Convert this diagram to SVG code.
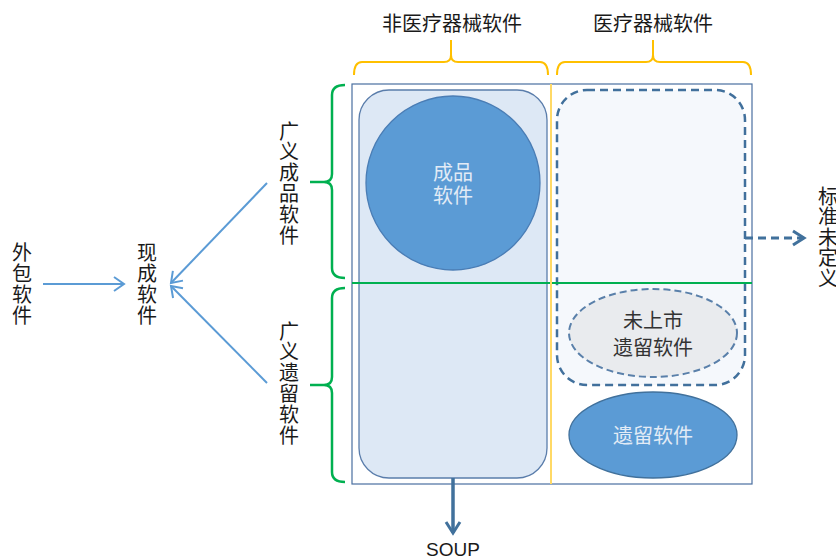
<svg xmlns="http://www.w3.org/2000/svg" width="836" height="560" viewBox="0 0 836 560">
<defs>
<style>
.t{font-family:"Noto Sans CJK SC","Liberation Sans",sans-serif;font-size:20px;fill:#1a1a1a}
.tc{text-anchor:middle}
.v{writing-mode:vertical-rl;text-anchor:start;letter-spacing:0.8px}
.w{fill:#e2ebf6}
.yb{fill:none;stroke:#ffc000;stroke-width:2}
.gb{fill:none;stroke:#00b050;stroke-width:2.5}
.ba{fill:none;stroke:#5b9bd5;stroke-width:2}
</style>
<marker id="ah" markerUnits="userSpaceOnUse" markerWidth="14" markerHeight="18" refX="11" refY="8" orient="auto">
<path d="M1,1 L11,8 L1,15" fill="none" stroke="#5b9bd5" stroke-width="2"/>
</marker>
<marker id="ad" markerUnits="userSpaceOnUse" markerWidth="16" markerHeight="20" refX="13" refY="9" orient="auto">
<path d="M2,2 L13,9 L2,16" fill="none" stroke="#41719c" stroke-width="3"/>
</marker>
</defs>

<g id="labels-top">
<text class="t tc" x="452" y="31">非医疗器械软件</text>
<text class="t tc" x="653" y="31">医疗器械软件</text>
<path class="yb" d="M354,75 Q354,62 362,62 L444,62 Q451,62 451,55 L451,40 M451,55 Q451,62 458,62 L540,62 Q548,62 548,75"/>
<path class="yb" d="M557,75 Q557,62 565,62 L646,62 Q653,62 653,55 L653,40 M653,55 Q653,62 660,62 L743,62 Q751,62 751,75"/>
</g>

<g id="frame">
<rect x="352" y="84" width="400" height="400" fill="#ffffff" stroke="#4a6fa0" stroke-width="1.2"/>
</g>

<g id="non-medical">
<rect x="359" y="90" width="188" height="388" rx="30" ry="30" fill="#dde8f5" stroke="#5a7dab" stroke-width="1.3"/>
</g>

<g id="finished-software">
<circle cx="453" cy="183" r="87" fill="#5b9bd5" stroke="#4a7db5" stroke-width="1.3"/>
<text class="t tc w" x="453" y="180">成品</text>
<text class="t tc w" x="453" y="203">软件</text>
</g>

<g id="undefined-region">
<rect x="557" y="90" width="188" height="295" rx="30" ry="30" fill="#f5f8fc" stroke="#41709c" stroke-width="2.5" stroke-dasharray="8,5"/>
</g>

<g id="dividers">
<line x1="352" y1="283" x2="752" y2="283" stroke="#00b050" stroke-width="2"/>
<line x1="551" y1="84" x2="551" y2="484" stroke="#ffd966" stroke-width="2"/>
</g>

<g id="unmarketed-legacy">
<ellipse cx="653" cy="333" rx="84" ry="44" fill="#e9ebee" stroke="#5a80aa" stroke-width="2" stroke-dasharray="7,4"/>
<text class="t tc" x="653" y="328" style="fill:#333">未上市</text>
<text class="t tc" x="653" y="355" style="fill:#333">遗留软件</text>
</g>

<g id="legacy">
<ellipse cx="653" cy="435" rx="84" ry="43" fill="#5b9bd5" stroke="#41719c" stroke-width="1.3"/>
<text class="t tc w" x="653" y="443">遗留软件</text>
</g>

<g id="left-braces">
<path class="gb" d="M345,85 Q332,85 332,95 L332,174 Q332,182 324,182 L310,182 M324,182 Q332,182 332,190 L332,268 Q332,278 345,278"/>
<path class="gb" d="M345,288 Q332,288 332,298 L332,377 Q332,385 324,385 L310,385 M324,385 Q332,385 332,393 L332,472 Q332,482 345,482"/>
</g>

<g id="n-broad-finished">
<text class="t v" x="289" y="121">广义成品软件</text>
</g>
<g id="n-broad-legacy">
<text class="t v" x="289" y="321">广义遗留软件</text>
</g>
<g id="n-ots">
<text class="t v" x="147" y="242" style="letter-spacing:1px">现成软件</text>
</g>
<g id="n-outsourced">
<text class="t v" x="22" y="242" style="letter-spacing:1px">外包软件</text>
</g>
<g id="n-undefined">
<text class="t v" x="828" y="186" style="letter-spacing:0.6px">标准未定义</text>
</g>
<g id="n-soup">
<text x="453" y="556" text-anchor="middle" style="font-family:'Liberation Sans',sans-serif;font-size:19px;fill:#1a1a1a">SOUP</text>
</g>

<g id="connectors">
<line class="ba" x1="43" y1="284" x2="124" y2="284" marker-end="url(#ah)"/>
<line class="ba" x1="267" y1="183" x2="171" y2="283" marker-end="url(#ah)"/>
<line class="ba" x1="267" y1="383" x2="171" y2="286" marker-end="url(#ah)"/>
<line x1="453" y1="478" x2="453" y2="533" stroke="#41719c" stroke-width="3.5" marker-end="url(#ad)"/>
<line x1="745" y1="238" x2="804" y2="238" stroke="#41719c" stroke-width="3" stroke-dasharray="8,5" marker-end="url(#ad)"/>
</g>
</svg>
